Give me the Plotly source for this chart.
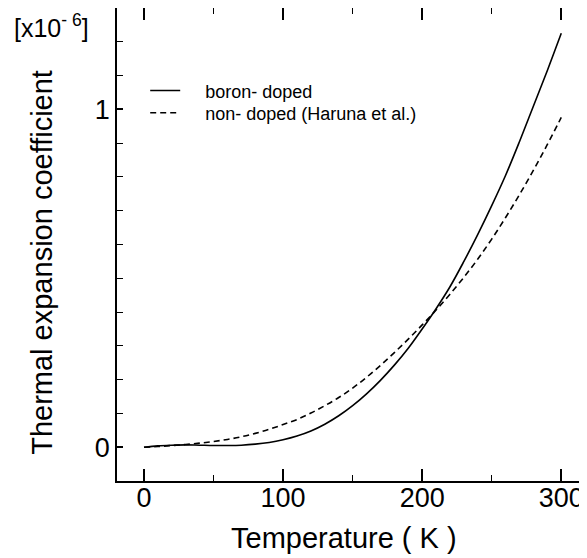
import plotly.graph_objects as go

# temperature grid (K)
temp = [0, 10, 20, 30, 40, 50, 60, 70, 80, 90, 100, 110, 120, 130, 140, 150,
        160, 170, 180, 190, 200, 210, 220, 230, 240, 250, 260, 270, 280, 290, 300]

# thermal expansion coefficient, units of 1e-6
boron_doped = [0.0, 0.004, 0.006, 0.007, 0.006, 0.005, 0.005, 0.006, 0.009, 0.014,
               0.022, 0.033, 0.048, 0.068, 0.093, 0.123, 0.158, 0.198, 0.243, 0.293,
               0.35, 0.41, 0.475, 0.55, 0.63, 0.715, 0.805, 0.905, 1.01, 1.115, 1.225]
non_doped = [0.0, 0.002, 0.005, 0.008, 0.012, 0.017, 0.023, 0.031, 0.041, 0.053,
             0.067, 0.082, 0.101, 0.123, 0.147, 0.175, 0.207, 0.242, 0.28, 0.32,
             0.362, 0.406, 0.453, 0.503, 0.557, 0.616, 0.68, 0.748, 0.82, 0.896, 0.976]

FONT = "Liberation Sans, Arial, sans-serif"
GAP = "\u00a0" * 4

fig = go.Figure()
fig.add_trace(go.Scatter(x=temp, y=boron_doped, mode="lines", name=GAP + "boron- doped",
                         legend="legend",
                         line=dict(color="black", width=1.6, shape="spline")))
fig.add_trace(go.Scatter(x=temp, y=non_doped, mode="lines", name=GAP + "non- doped (Haruna et al.)",
                         legend="legend2",
                         line=dict(color="black", width=1.6, dash="6px,4px", shape="spline")))

leg = dict(xanchor="left", yanchor="middle", font=dict(size=18, family=FONT),
           bgcolor="rgba(0,0,0,0)", borderwidth=0)
# page body adds an 8px offset, so the figure is a bit smaller than the window
fig.update_layout(
    width=579, height=550,
    margin=dict(l=109, r=0, t=0, b=77),
    paper_bgcolor="white", plot_bgcolor="white",
    font=dict(family=FONT, color="black"),
    showlegend=True,
    legend=dict(x=0.06, y=0.825, **leg),
    legend2=dict(x=0.06, y=0.778, **leg),
)
fig.update_xaxes(
    range=[-19.4, 318.5],
    tickvals=[0, 100, 200, 300],
    ticks="inside", ticklen=12, tickwidth=1.5, tickcolor="black",
    minor=dict(dtick=50, tick0=0, ticks="inside", ticklen=6, tickwidth=1.4, tickcolor="black"),
    showline=True, linecolor="black", linewidth=1.5, mirror="allticks",
    showgrid=False, zeroline=False, automargin=False,
    tickfont=dict(size=27), ticklabelstandoff=-8,
)
fig.update_yaxes(
    range=[-0.1, 1.3],
    tickvals=[0, 1],
    ticks="inside", ticklen=6, tickwidth=1.5, tickcolor="black",
    minor=dict(dtick=0.1, tick0=0, ticks="inside", ticklen=6, tickwidth=1.4, tickcolor="black"),
    showline=True, linecolor="black", linewidth=1.5, mirror="allticks",
    showgrid=False, zeroline=False, automargin=False,
    tickfont=dict(size=27),
)

# axis titles and the unit multiplier
fig.add_annotation(text="Temperature ( K )", xref="paper", yref="paper",
                   x=0.483, y=-0.12, xanchor="center", yanchor="middle",
                   showarrow=False, font=dict(size=29))
fig.add_annotation(text="Thermal expansion coefficient", xref="paper", yref="paper",
                   x=-0.16, y=0.463, xanchor="center", yanchor="middle", textangle=-90,
                   showarrow=False, font=dict(size=29))
fig.add_annotation(text="[x10<sup>- 6</sup>]", xref="paper", yref="paper",
                   x=-0.223, y=0.962, xanchor="left", yanchor="middle",
                   showarrow=False, font=dict(size=25))

fig.write_html("out.html")
